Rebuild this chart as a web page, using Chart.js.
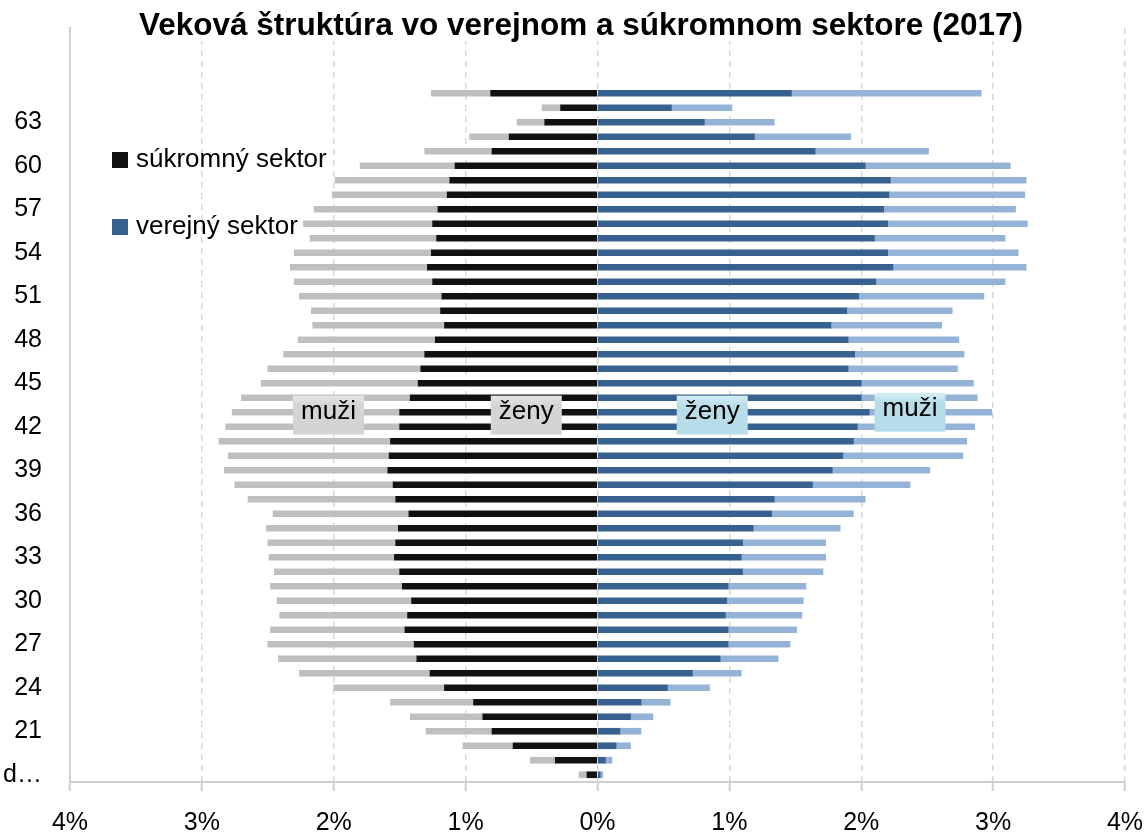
<!DOCTYPE html>
<html>
<head>
  <meta charset="utf-8">
  <title>Veková štruktúra vo verejnom a súkromnom sektore (2017)</title>
  <script src="https://cdn.jsdelivr.net/npm/chart.js"></script>
  <style>
    html, body { margin: 0; padding: 0; background: #fff; }
    #wrap { width: 1146px; height: 835px; }
  </style>
</head>
<body>
  <div id="wrap"><canvas id="chart"></canvas></div>

  <script>
    // age groups, bottom to top
    const ages = ['do 18', '19', '20', '21', '22', '23', '24', '25', '26', '27', '28', '29',
      '30', '31', '32', '33', '34', '35', '36', '37', '38', '39', '40', '41', '42', '43',
      '44', '45', '46', '47', '48', '49', '50', '51', '52', '53', '54', '55', '56', '57',
      '58', '59', '60', '61', '62', '63', '64', '65+'];
    // empty rows above the oldest group (space for the title)
    const spareRows = ['', '', '', ''];

    // share of all employees in %, private sector
    const privWomen = [0.08, 0.32, 0.64, 0.80, 0.87, 0.94, 1.16, 1.27, 1.37, 1.39, 1.46, 1.44,
      1.41, 1.48, 1.50, 1.54, 1.53, 1.51, 1.43, 1.53, 1.55, 1.59, 1.58, 1.57,
      1.50, 1.50, 1.42, 1.36, 1.34, 1.31, 1.23, 1.16, 1.19, 1.18, 1.25, 1.29,
      1.26, 1.22, 1.25, 1.21, 1.14, 1.12, 1.08, 0.80, 0.67, 0.40, 0.28, 0.81];
    const privMen = [0.06, 0.19, 0.38, 0.50, 0.55, 0.63, 0.84, 0.99, 1.05, 1.11, 1.02, 0.97,
      1.02, 1.00, 0.95, 0.95, 0.97, 1.00, 1.03, 1.12, 1.20, 1.24, 1.22, 1.30,
      1.32, 1.27, 1.28, 1.19, 1.16, 1.07, 1.04, 1.00, 0.98, 1.08, 1.05, 1.04,
      1.04, 0.96, 0.98, 0.94, 0.87, 0.87, 0.72, 0.51, 0.30, 0.21, 0.14, 0.45];
    // public sector
    const pubWomen = [0.02, 0.06, 0.14, 0.17, 0.25, 0.33, 0.53, 0.72, 0.93, 0.99, 0.99, 0.97,
      0.98, 0.99, 1.10, 1.09, 1.10, 1.18, 1.32, 1.34, 1.63, 1.78, 1.86, 1.94,
      1.97, 2.06, 2.00, 2.00, 1.90, 1.95, 1.90, 1.77, 1.89, 1.98, 2.11, 2.24,
      2.20, 2.10, 2.20, 2.17, 2.21, 2.22, 2.03, 1.65, 1.19, 0.81, 0.56, 1.47];
    const pubMen = [0.02, 0.05, 0.11, 0.16, 0.17, 0.22, 0.32, 0.37, 0.44, 0.47, 0.52, 0.58,
      0.58, 0.59, 0.61, 0.64, 0.63, 0.66, 0.62, 0.69, 0.74, 0.74, 0.91, 0.86,
      0.89, 0.93, 0.88, 0.85, 0.83, 0.83, 0.84, 0.84, 0.80, 0.95, 0.98, 1.01,
      0.99, 0.99, 1.06, 1.00, 1.03, 1.03, 1.10, 0.86, 0.73, 0.53, 0.46, 1.44];

    const xTicks = [-4, -3, -2, -1, 0, 1, 2, 3, 4];

    const titleText = 'Veková štruktúra vo verejnom a súkromnom sektore (2017)';
    const legendItems = [
      { text: 'súkromný sektor', color: '#111111' },
      { text: 'verejný sektor', color: '#37618f' }
    ];
    // side labels, placed in axis units (x in %, y in rows)
    const sideLabels = [
      { text: 'muži', x: -2.04, y: 24.8, fill: ['#e6e6e6', '#d4d4d4'] },
      { text: 'ženy', x: -0.54, y: 24.8, fill: ['#e6e6e6', '#d4d4d4'] },
      { text: 'ženy', x: 0.87, y: 24.8, fill: ['#d6eef4', '#b7dde8'] },
      { text: 'muži', x: 2.37, y: 25.0, fill: ['#d6eef4', '#b7dde8'] }
    ];

    const FONT = "'Liberation Sans', Arial, sans-serif";

    // title, legend and the muži/ženy boxes
    const overlay = {
      id: 'overlay',
      afterDraw(chart) {
        const { ctx, chartArea, scales } = chart;
        ctx.save();

        // title on a white backdrop so the grid stops under it
        ctx.font = 'bold 31.5px ' + FONT;
        const tw = ctx.measureText(titleText).width;
        const cx = chart.width / 2 + 8;
        ctx.fillStyle = '#ffffff';
        ctx.fillRect(cx - tw / 2 - 4, 0, tw + 8, 41);
        ctx.fillStyle = '#000000';
        ctx.textAlign = 'center';
        ctx.textBaseline = 'alphabetic';
        ctx.fillText(titleText, cx, 35);

        // legend
        ctx.font = '26px ' + FONT;
        ctx.textAlign = 'left';
        ctx.textBaseline = 'middle';
        legendItems.forEach((item, i) => {
          const ly = chartArea.top + 132 + i * 67;
          ctx.fillStyle = item.color;
          ctx.fillRect(chartArea.left + 42, ly - 8, 16, 16);
          ctx.fillStyle = '#000000';
          ctx.fillText(item.text, chartArea.left + 66, ly);
        });

        // muži / ženy boxes
        ctx.textAlign = 'center';
        sideLabels.forEach(lab => {
          const bx = scales.x.getPixelForValue(lab.x);
          const by = scales.y.getPixelForValue(lab.y);
          const w = 71, h = 39;
          const g = ctx.createLinearGradient(0, by - h / 2, 0, by + h / 2);
          g.addColorStop(0, lab.fill[0]);
          g.addColorStop(0.25, lab.fill[1]);
          g.addColorStop(1, lab.fill[1]);
          ctx.fillStyle = g;
          ctx.fillRect(bx - w / 2, by - h / 2, w, h);
          ctx.fillStyle = '#000000';
          ctx.fillText(lab.text, bx, by - 3);
        });

        ctx.restore();
      }
    };

    new Chart(document.getElementById('chart'), {
      type: 'bar',
      data: {
        labels: ages.concat(spareRows),
        datasets: [
          { label: 'súkromný sektor – ženy', data: privWomen.map(v => -v), backgroundColor: '#111111' },
          { label: 'súkromný sektor – muži', data: privMen.map(v => -v), backgroundColor: '#bfbfbf' },
          { label: 'verejný sektor – ženy', data: pubWomen, backgroundColor: '#37618f' },
          { label: 'verejný sektor – muži', data: pubMen, backgroundColor: '#95b3d7' }
        ]
      },
      options: {
        indexAxis: 'y',
        responsive: true,
        maintainAspectRatio: false,
        animation: false,
        layout: { padding: { top: 28, right: 21, bottom: 0, left: 0 } },
        datasets: { bar: { barThickness: 6, borderWidth: 0 } },
        plugins: {
          legend: { display: false },
          title: { display: false },
          tooltip: { enabled: false }
        },
        scales: {
          x: {
            stacked: true,
            min: xTicks[0],
            max: xTicks[xTicks.length - 1],
            afterBuildTicks: s => { s.ticks = xTicks.map(v => ({ value: v })); },
            ticks: {
              color: '#000000',
              font: { family: FONT, size: 25 },
              padding: 17,
              maxRotation: 0,
              callback: v => Math.abs(v) + '%'
            },
            grid: {
              color: '#d9d9d9',
              lineWidth: 1.5,
              tickLength: 9,
              tickColor: '#cfcfcf',
              tickWidth: 2,
              tickBorderDash: []
            },
            border: { display: true, color: '#cfcfcf', width: 2, dash: [6, 5] },
            afterFit: s => { s.height = 53; s.paddingLeft = 0; s.paddingRight = 0; }
          },
          y: {
            stacked: true,
            reverse: true,
            ticks: {
              autoSkip: false,
              color: '#000000',
              font: { family: FONT, size: 25 },
              padding: 28,
              callback: (v, i) => {
                if (i % 3 !== 0 || i >= ages.length) return '';
                const l = ages[i];
                return l.length > 3 ? l[0] + '…' : l;
              }
            },
            grid: { display: false, drawTicks: false },
            border: { display: true, color: '#cfcfcf', width: 2 },
            afterFit: s => { s.width = 70; s.paddingTop = 0; s.paddingBottom = 0; }
          }
        }
      },
      plugins: [overlay]
    });
  </script>
</body>
</html>
